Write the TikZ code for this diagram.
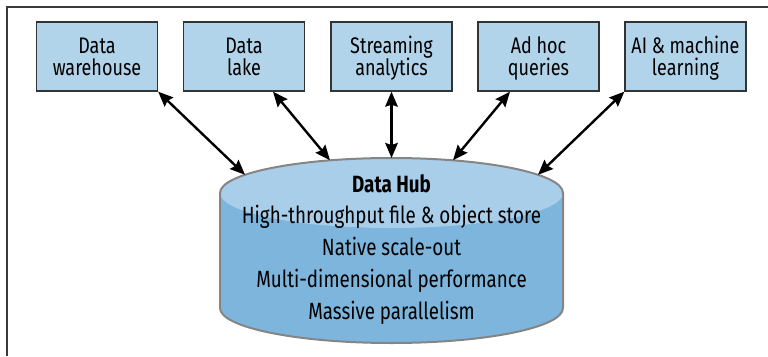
\documentclass[tikz,border=0pt]{standalone}
\usepackage{fontspec}
\setmainfont[FakeStretch=0.80]{Fira Sans}
\usetikzlibrary{arrows.meta}
\definecolor{boxfill}{HTML}{B2D4EA}
\definecolor{boxline}{HTML}{333333}
\definecolor{hubtop}{HTML}{A9CEEA}
\definecolor{hubbody}{HTML}{7DB5DD}
\definecolor{hubline}{HTML}{858585}
\definecolor{framecol}{HTML}{3A3A3A}
\newcommand\twoline[2]{\smash{#1}\rule{0pt}{16pt}\\\smash{#2}}
\tikzset{
  srcbox/.style={draw=boxline, fill=boxfill, line width=1.3pt, minimum width=121pt,
    minimum height=69pt, inner sep=0pt, align=center, font=\fontsize{22.5}{21.5}\selectfont},
  link/.style={line width=2.4pt,
    {Stealth[length=15pt,width=12.5pt,inset=2pt]}-{Stealth[length=15pt,width=12.5pt,inset=2pt]}},
  hubtext/.style={anchor=base, inner sep=0pt, font=\fontsize{23.5}{23.5}\selectfont},
}
\begin{document}
\begin{tikzpicture}[x=1pt,y=-1pt]
\useasboundingbox (0,0) rectangle (768,356);
\draw[framecol, line width=1.5pt] (7,356) -- (7,7) -- (768,7);

\node[srcbox] (dw) at (97,56.5) {\twoline{Data}{warehouse}};
\node[srcbox] (dl) at (244,56.5) {\twoline{Data}{lake}};
\node[srcbox] (sa) at (391.5,56.5) {\twoline{Streaming}{analytics}};
\node[srcbox] (ah) at (538.5,56.5) {\twoline{Ad hoc}{queries}};
\node[srcbox] (ai) at (685.5,56.5) {\twoline{AI \& machine}{learning}};

\coordinate (hc) at (391.5,193);
\fill[hubbody] (220,193) -- (220,308)
  arc[start angle=180, end angle=360, x radius=171.5pt, y radius=35pt] -- (563,193) -- cycle;
\fill[hubtop] (hc) ellipse [x radius=171.5pt, y radius=35pt];
\draw[hubline, line width=2pt] (220,193) -- (220,308)
  arc[start angle=180, end angle=360, x radius=171.5pt, y radius=35pt] -- (563,193)
  arc[start angle=0, end angle=180, x radius=171.5pt, y radius=35pt] -- cycle;

\node[hubtext, font=\bfseries\fontsize{23.5}{23.5}\selectfont] (hub) at (391.5,192) {Data Hub};
\node[hubtext] (f1) at (391.5,223.5) {High-throughput file \& object store};
\node[hubtext] (f2) at (391.5,255) {Native scale-out};
\node[hubtext] (f3) at (391.5,287) {Multi-dimensional performance};
\node[hubtext] (f4) at (391.5,319) {Massive parallelism};

\coordinate (e1) at (245,174.8);
\coordinate (e2) at (330,160.3);
\coordinate (e3) at (391.5,158);
\coordinate (e4) at (453,160.3);
\coordinate (e5) at (538,174.8);

\draw[link] (dw.south east) -- (e1);
\draw[link] ([xshift=29pt]dl.south) -- (e2);
\draw[link] (sa.south) -- (e3);
\draw[link] ([xshift=-28.5pt]ah.south) -- (e4);
\draw[link] (ai.south west) -- (e5);
\end{tikzpicture}
\end{document}
